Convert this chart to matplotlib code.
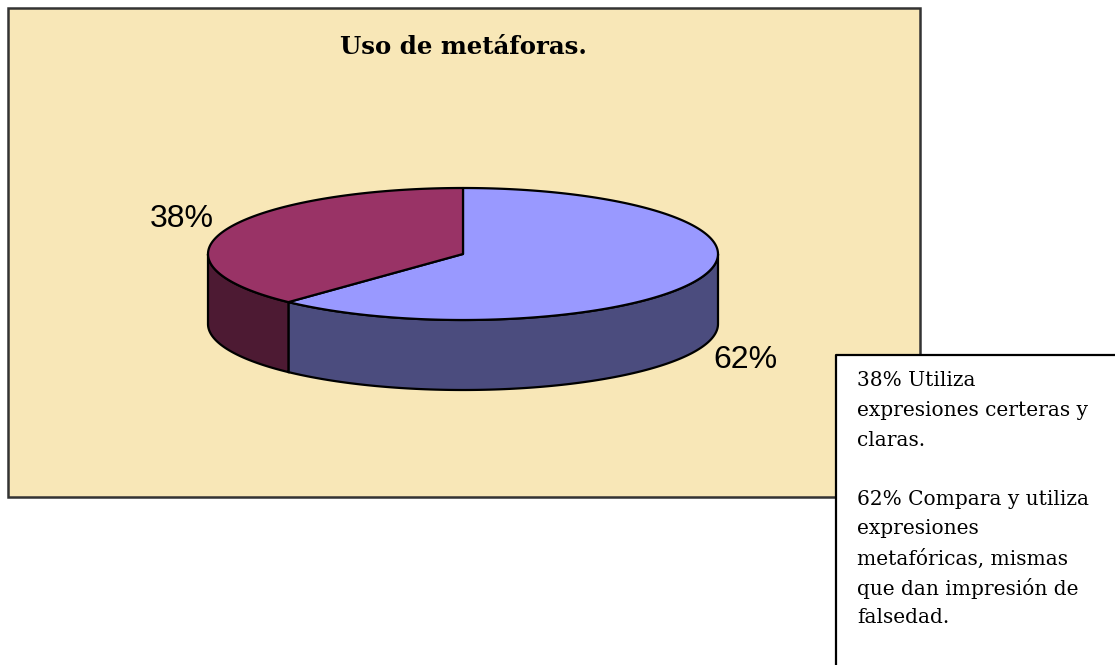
import numpy as np
import matplotlib
matplotlib.use("Agg")
import matplotlib.pyplot as plt
from matplotlib.patches import Polygon, Rectangle

# data
labels = ["38%", "62%"]
values = [38, 62]
top_colors = ["#993366", "#9999FF"]
side_colors = ["#4D1A33", "#4B4C7E"]
title = "Uso de metáforas."
note_lines = ["38% Utiliza", "expresiones certeras y", "claras.", "",
              "62% Compara y utiliza", "expresiones", "metafóricas, mismas",
              "que dan impresión de", "falsedad."]

W, H = 1115, 665
fig = plt.figure(figsize=(W / 100, H / 100), dpi=100)
ax = fig.add_axes([0, 0, 1, 1])
ax.set_xlim(0, W)
ax.set_ylim(H, 0)
ax.axis("off")

# chart area
ax.add_patch(Rectangle((8, 8), 912, 489, facecolor="#F8E7B7", edgecolor="#333333", lw=1.8, zorder=0))
ax.text(463, 47, title, ha="center", va="center", fontsize=17.6, fontweight="bold",
        family="DejaVu Serif", zorder=5)

# 3d pie geometry (pixels)
cx, cy, rx, ry, depth = 463, 254, 255, 66, 70


def pt(t, dy=0):
    return cx + rx * np.cos(t), cy - ry * np.sin(t) + dy


# slices go clockwise from 12 o'clock; 62% first then 38%
order = [1, 0]
total = sum(values)
start = np.pi / 2
wedges = []
for i in order:
    span = values[i] / total * 2 * np.pi
    wedges.append((i, start - span, start))
    start -= span

# side faces (front half only: angles in pi..2pi)
for i, a0, a1 in wedges:
    for shift in (0, 2 * np.pi, -2 * np.pi):
        lo = max(a0 + shift, np.pi)
        hi = min(a1 + shift, 2 * np.pi)
        if hi <= lo:
            continue
        t = np.linspace(lo, hi, 120)
        xs, ys = pt(t)
        xb, yb = pt(t[::-1], depth)
        poly = np.column_stack([np.r_[xs, xb], np.r_[ys, yb]])
        ax.add_patch(Polygon(poly, closed=True, facecolor=side_colors[i],
                             edgecolor="black", lw=1.6, zorder=2))

# top faces
for i, a0, a1 in wedges:
    t = np.linspace(a0, a1, 200)
    xs, ys = pt(t)
    poly = np.column_stack([np.r_[cx, xs], np.r_[cy, ys]])
    ax.add_patch(Polygon(poly, closed=True, facecolor=top_colors[i],
                         edgecolor="black", lw=1.6, zorder=3, joinstyle="round"))

# data labels
ax.text(182, 219, labels[0], ha="center", va="center", fontsize=23, family="Liberation Sans", zorder=5)
ax.text(745, 360, labels[1], ha="center", va="center", fontsize=23, family="Liberation Sans", zorder=5)

# note box
ax.plot([836, 836, W + 5], [H + 5, 355, 355], color="black", lw=1.6, zorder=6, clip_on=False)
ax.add_patch(Rectangle((836, 355), 300, 320, facecolor="white", edgecolor="none", zorder=5))
for k, line in enumerate(note_lines):
    ax.text(857, 381 + k * 29.6, line, ha="left", va="center", fontsize=14.5,
            family="DejaVu Serif", zorder=7)

fig.savefig("out.png", dpi=100)
